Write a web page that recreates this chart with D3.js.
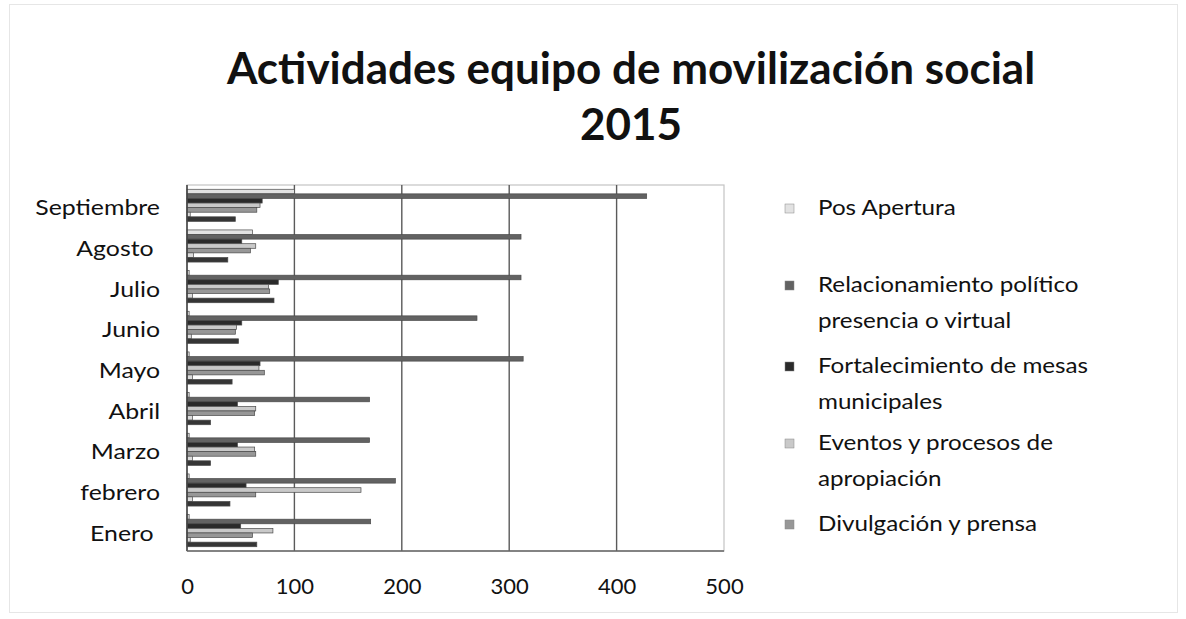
<!DOCTYPE html>
<html>
<head>
<meta charset="utf-8">
<script src="https://cdn.jsdelivr.net/npm/d3@7"></script>
<style>
  body { margin: 0; background: #fff; }
  svg { display: block; font-family: Lato, "Open Sans", sans-serif; }
  .tick text { white-space: pre; }
</style>
</head>
<body>
<script>
// months, bottom to top (trailing spaces as typed in the original sheet)
var months = ["Enero ", "febrero", "Marzo", "Abril", "Mayo", "Junio", "Julio", "Agosto ", "Septiembre"];
var xTicks = [0, 100, 200, 300, 400, 500];

// one array per series, Enero..Septiembre
var posApertura     = [2, 2, 2, 2, 2, 2, 2, 61, 100];
var relacionamiento = [171, 194, 170, 170, 313, 270, 311, 311, 428];
var fortalecimiento = [50, 55, 47, 47, 68, 51, 85, 51, 70];
var eventos         = [80, 162, 63, 64, 67, 46, 76, 64, 68];
var divulgacion     = [61, 64, 64, 63, 72, 45, 77, 59, 65];
var serie6          = [3, 5, 5, 5, 5, 4, 5, 6, 3];
var serie7          = [65, 40, 22, 22, 42, 48, 81, 38, 45];

var seriesNames = ["Pos Apertura", "Relacionamiento político presencia o virtual",
  "Fortalecimiento de mesas municipales", "Eventos y procesos de apropiación",
  "Divulgación y prensa", "serie6", "serie7"];
var seriesValues = [posApertura, relacionamiento, fortalecimiento, eventos, divulgacion, serie6, serie7];
var seriesColors = ["#e2e2e2", "#626262", "#2a2a2a", "#c9c9c9", "#979797", "#dcdcdc", "#353535"];

// legend (only the entries visible on the original)
var legendLines = [["Pos Apertura"], ["Relacionamiento político", "presencia o virtual"],
  ["Fortalecimiento de mesas", "municipales"], ["Eventos y procesos de", "apropiación"],
  ["Divulgación y prensa"]];
var legendY = [208, 285, 366, 443, 524];

var width = 1186, height = 619;
var plot = {left: 187, right: 724, top: 185, bottom: 551};

var svg = d3.select("body").append("svg")
  .attr("width", width)
  .attr("height", height);

svg.append("rect")
  .attr("x", 9.5).attr("y", 4.5)
  .attr("width", 1168).attr("height", 608)
  .attr("fill", "#fff")
  .attr("stroke", "#e6e6e6");

// title
svg.append("text")
  .attr("x", 631).attr("y", 84)
  .attr("text-anchor", "middle")
  .attr("font-size", 44).attr("font-weight", "bold")
  .attr("fill", "#111")
  .text("Actividades equipo de movilización social");
svg.append("text")
  .attr("x", 631).attr("y", 140)
  .attr("text-anchor", "middle")
  .attr("font-size", 44).attr("font-weight", "bold")
  .attr("fill", "#111")
  .text("2015");

var x = d3.scaleLinear().domain([0, 500]).range([plot.left, plot.right]);
var y = d3.scaleBand().domain(months.slice().reverse())
  .range([plot.top, plot.bottom])
  .paddingInner(0.21).paddingOuter(0.105);
var inner = d3.scaleBand().domain(d3.range(seriesValues.length))
  .range([0, y.bandwidth()]);

// frame + gridlines
svg.append("rect")
  .attr("x", plot.left).attr("y", plot.top)
  .attr("width", plot.right - plot.left).attr("height", plot.bottom - plot.top)
  .attr("fill", "none").attr("stroke", "#c4c4c4").attr("stroke-width", 1.2);

svg.append("g").selectAll("line")
  .data(xTicks.slice(1, -1))
  .join("line")
  .attr("x1", d => x(d)).attr("x2", d => x(d))
  .attr("y1", plot.top).attr("y2", plot.bottom)
  .attr("stroke", "#5a5a5a").attr("stroke-width", 1.4);

// bars
seriesValues.forEach(function(vals, s) {
  svg.append("g").selectAll("rect")
    .data(vals)
    .join("rect")
    .attr("x", x(0))
    .attr("y", (d, i) => y(months[i]) + inner(s))
    .attr("width", d => x(d) - x(0))
    .attr("height", inner.bandwidth())
    .attr("fill", seriesColors[s])
    .attr("stroke", "#4a4a4a")
    .attr("stroke-width", 0.7);
});

// axis lines
svg.append("line")
  .attr("x1", plot.left).attr("x2", plot.left)
  .attr("y1", plot.top).attr("y2", plot.bottom)
  .attr("stroke", "#444").attr("stroke-width", 1.6);
svg.append("line")
  .attr("x1", plot.left).attr("x2", plot.right)
  .attr("y1", plot.bottom).attr("y2", plot.bottom)
  .attr("stroke", "#666").attr("stroke-width", 1.4);

// x tick labels
var xAxis = svg.append("g")
  .attr("transform", "translate(0," + plot.bottom + ")")
  .call(d3.axisBottom(x).tickValues(xTicks).tickSize(0).tickPadding(27));
xAxis.select(".domain").remove();
xAxis.selectAll("text").attr("font-size", 22).attr("font-family", "Lato, sans-serif").attr("fill", "#111");

// category labels, slightly stretched like the scan
var yAxis = svg.append("g")
  .attr("transform", "translate(" + (plot.left - 27) + ",3)")
  .call(d3.axisLeft(y).tickSize(0).tickPadding(0));
yAxis.select(".domain").remove();
yAxis.selectAll(".tick text")
  .attr("font-size", 22).attr("font-family", "Lato, sans-serif").attr("fill", "#111")
  .attr("transform", "scale(1.13,1)");

// legend
var leg = svg.append("g");
legendLines.forEach(function(lines, i) {
  leg.append("rect")
    .attr("x", 785).attr("y", legendY[i] - 4)
    .attr("width", 9).attr("height", 9)
    .attr("fill", seriesColors[i]).attr("stroke", "#888").attr("stroke-width", 0.5);
  lines.forEach(function(t, j) {
    leg.append("text")
      .attr("transform", "translate(818," + (legendY[i] + 7 + j * 36) + ") scale(1.1,1)")
      .attr("font-size", 22)
      .attr("fill", "#111")
      .text(t);
  });
});
</script>
</body>
</html>
